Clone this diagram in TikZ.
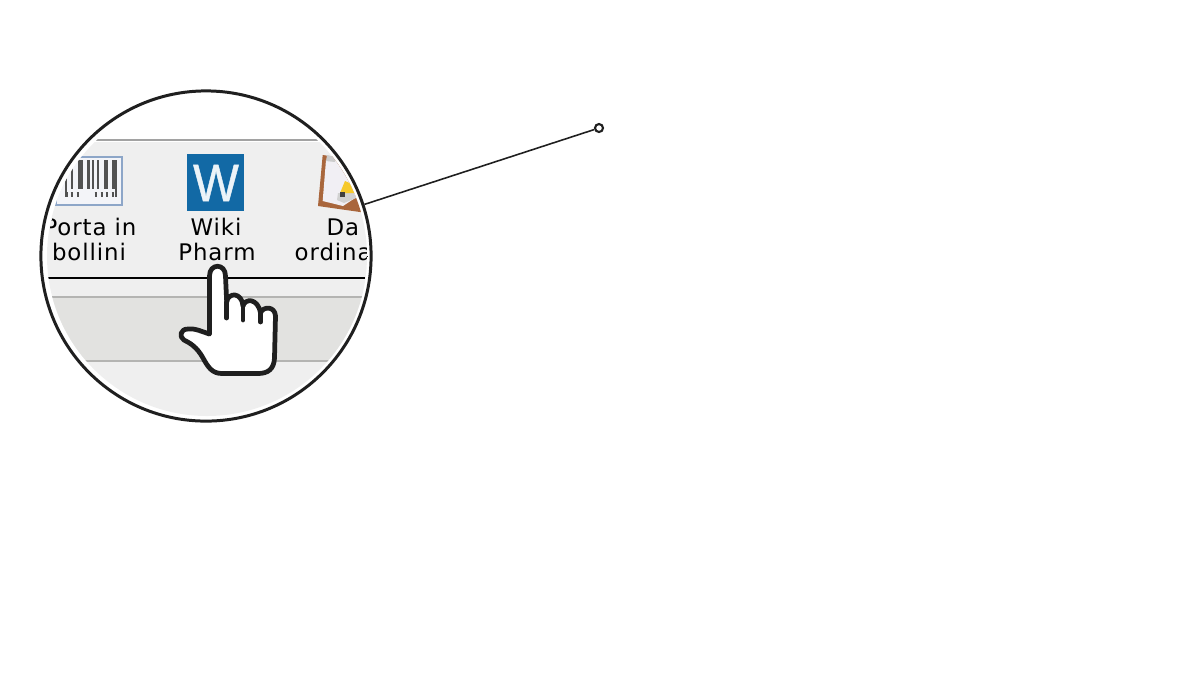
\documentclass[tikz,border=0pt]{standalone}
\usepackage{fontspec}
\setmainfont[LetterSpace=4]{DejaVu Sans}
\newfontfamily\iconfont[FakeBold=0.9]{Liberation Sans}
\definecolor{panelgray}{HTML}{EFEFEF}
\definecolor{bandgray}{HTML}{E2E2E0}
\definecolor{rulegray}{HTML}{B4B4B2}
\definecolor{topgray}{HTML}{A2A2A2}
\definecolor{wikiblue}{HTML}{1269A5}
\definecolor{woodbrown}{HTML}{A9663C}
\definecolor{framesteel}{HTML}{8DA6C8}
\definecolor{barfill}{HTML}{F3F4F8}
\definecolor{paperwhite}{HTML}{F1EFF4}
\definecolor{penyellow}{HTML}{F6C92C}
\tikzset{
  lensring/.style={circle, draw=black!88, line width=0.85pt, minimum size=3.3cm, inner sep=0pt},
  pindot/.style={circle, draw=black!88, fill=white, line width=0.6pt, minimum size=0.08cm, inner sep=0pt},
  tooltext/.style={font=\fontsize{6.5}{7.4}\selectfont, text=black, inner sep=0pt, align=center},
  handline/.style={draw=black!88, line width=1.35pt, line cap=round, line join=round}
}
\begin{document}
\begin{tikzpicture}[x=0.01cm, y=-0.01cm]
        \useasboundingbox (0,0) rectangle (1200,699);
        \begin{scope}
        \clip (207,256) circle (160);                                   %lens
        \fill [panelgray] (0,142) rectangle (400,430);                  %panel
        \fill [bandgray]  (0,297) rectangle (400,361);                  %band
        \draw [topgray,  line width=0.55pt] (0,140) -- (400,140);       %
        \draw [rulegray, line width=0.6pt]  (0,297) -- (400,297);       %
        \draw [rulegray, line width=0.6pt]  (0,361) -- (400,361);       %
        \draw [black, line width=0.55pt]    (40,278) -- (365,278);      %

        \draw [draw=framesteel, fill=barfill, line width=0.45pt] (56,157) rectangle (122,205); %barcode
        \foreach \barx/\barw in {66/1.5, 72/2, 80.5/5, 88.5/3.5, 93/1.5, 98/2, 106/4, 113.5/2.5}
          \draw [black!68, line width=\barw*0.2846pt] (\barx,160) -- (\barx,189);
        \foreach \barx/\barw in {66/1.5, 116/1.5}
          \draw [black!68, line width=\barw*0.2846pt] (\barx,160) -- (\barx,197);
        \foreach \tickx in {67,72,78,96,102,107,113}
          \draw [black!68, line width=0.4pt] (\tickx-1.5,193) -- (\tickx,193) -- (\tickx,197);

        \fill [wikiblue] (187,154) rectangle (244,211);                 %wiki icon
        \node (wikiw) at (216,183) [font=\iconfont\fontsize{15}{15}\selectfont, text=white!92!wikiblue, inner sep=0pt, xscale=0.92] {W};

        \fill [woodbrown] (322.7,155) -- (336,157) -- (366,212) -- (360,212) -- (318,206) -- cycle; %clipboard
        \fill [paperwhite] (326,160) -- (340,160) -- (366,196) -- (355,198) -- (343,206) -- (322.7,201) -- cycle; %
        \fill [black!20] (327,155) -- (335,157) -- (335,162) -- (326,161) -- cycle; %
        \fill [black!18] (338,193) -- (354,193) -- (356,198) -- (344,203) -- (337,200) -- cycle; %
        \fill [penyellow] (345,181) -- (352,184) -- (356,193) -- (340,193) -- cycle; %
        \fill [black!75] (340,192) -- (345,192) -- (345,197) -- (340,197) -- cycle; %

        \node (portaone)  at (90,227)  [tooltext] {Porta in};
        \node (portatwo)  at (89,252)  [tooltext] {bollini};
        \node (wikione)   at (216,227) [tooltext] {Wiki};
        \node (wikitwo)   at (217,252) [tooltext] {Pharm};
        \node (daone)     at (343,227) [tooltext] {Da};
        \node (datwo)     [tooltext, anchor=west] at (294,252) {ordina};
        \end{scope}

        \node (lens) at (206,256) [lensring] {};
        \node (pin)  at (599,128) [pindot] {};
        \draw [black!88, line width=0.45pt] (lens) -- (pin);            %

        \draw [handline, fill=white] (209.5,334) -- (209.5,276)
          .. controls (209.5,263) and (225.5,263) .. (225.5,276) -- (226.7,302)
          .. controls (228,292) and (242,292) .. (243,306)
          .. controls (245,298) and (258,298) .. (260.5,313)
          .. controls (263,306) and (275,306) .. (275.5,316)
          -- (274.5,358) .. controls (274,369) and (268,373.5) .. (258,373.5)
          -- (222,373.5) .. controls (212,373.5) and (208,367) .. (203,358)
          .. controls (197,347) and (190,343) .. (184,340)
          .. controls (179,337) and (180,329) .. (188,329)
          .. controls (195,328) and (203,332) .. (209.5,334) -- cycle;  %hand
        \draw [handline] (226.7,302) -- (226.7,318);                    %
        \draw [handline] (243,306)   -- (243,320);                      %
        \draw [handline] (260.5,313) -- (260.5,322);                    %
       \end{tikzpicture}
\end{document}
